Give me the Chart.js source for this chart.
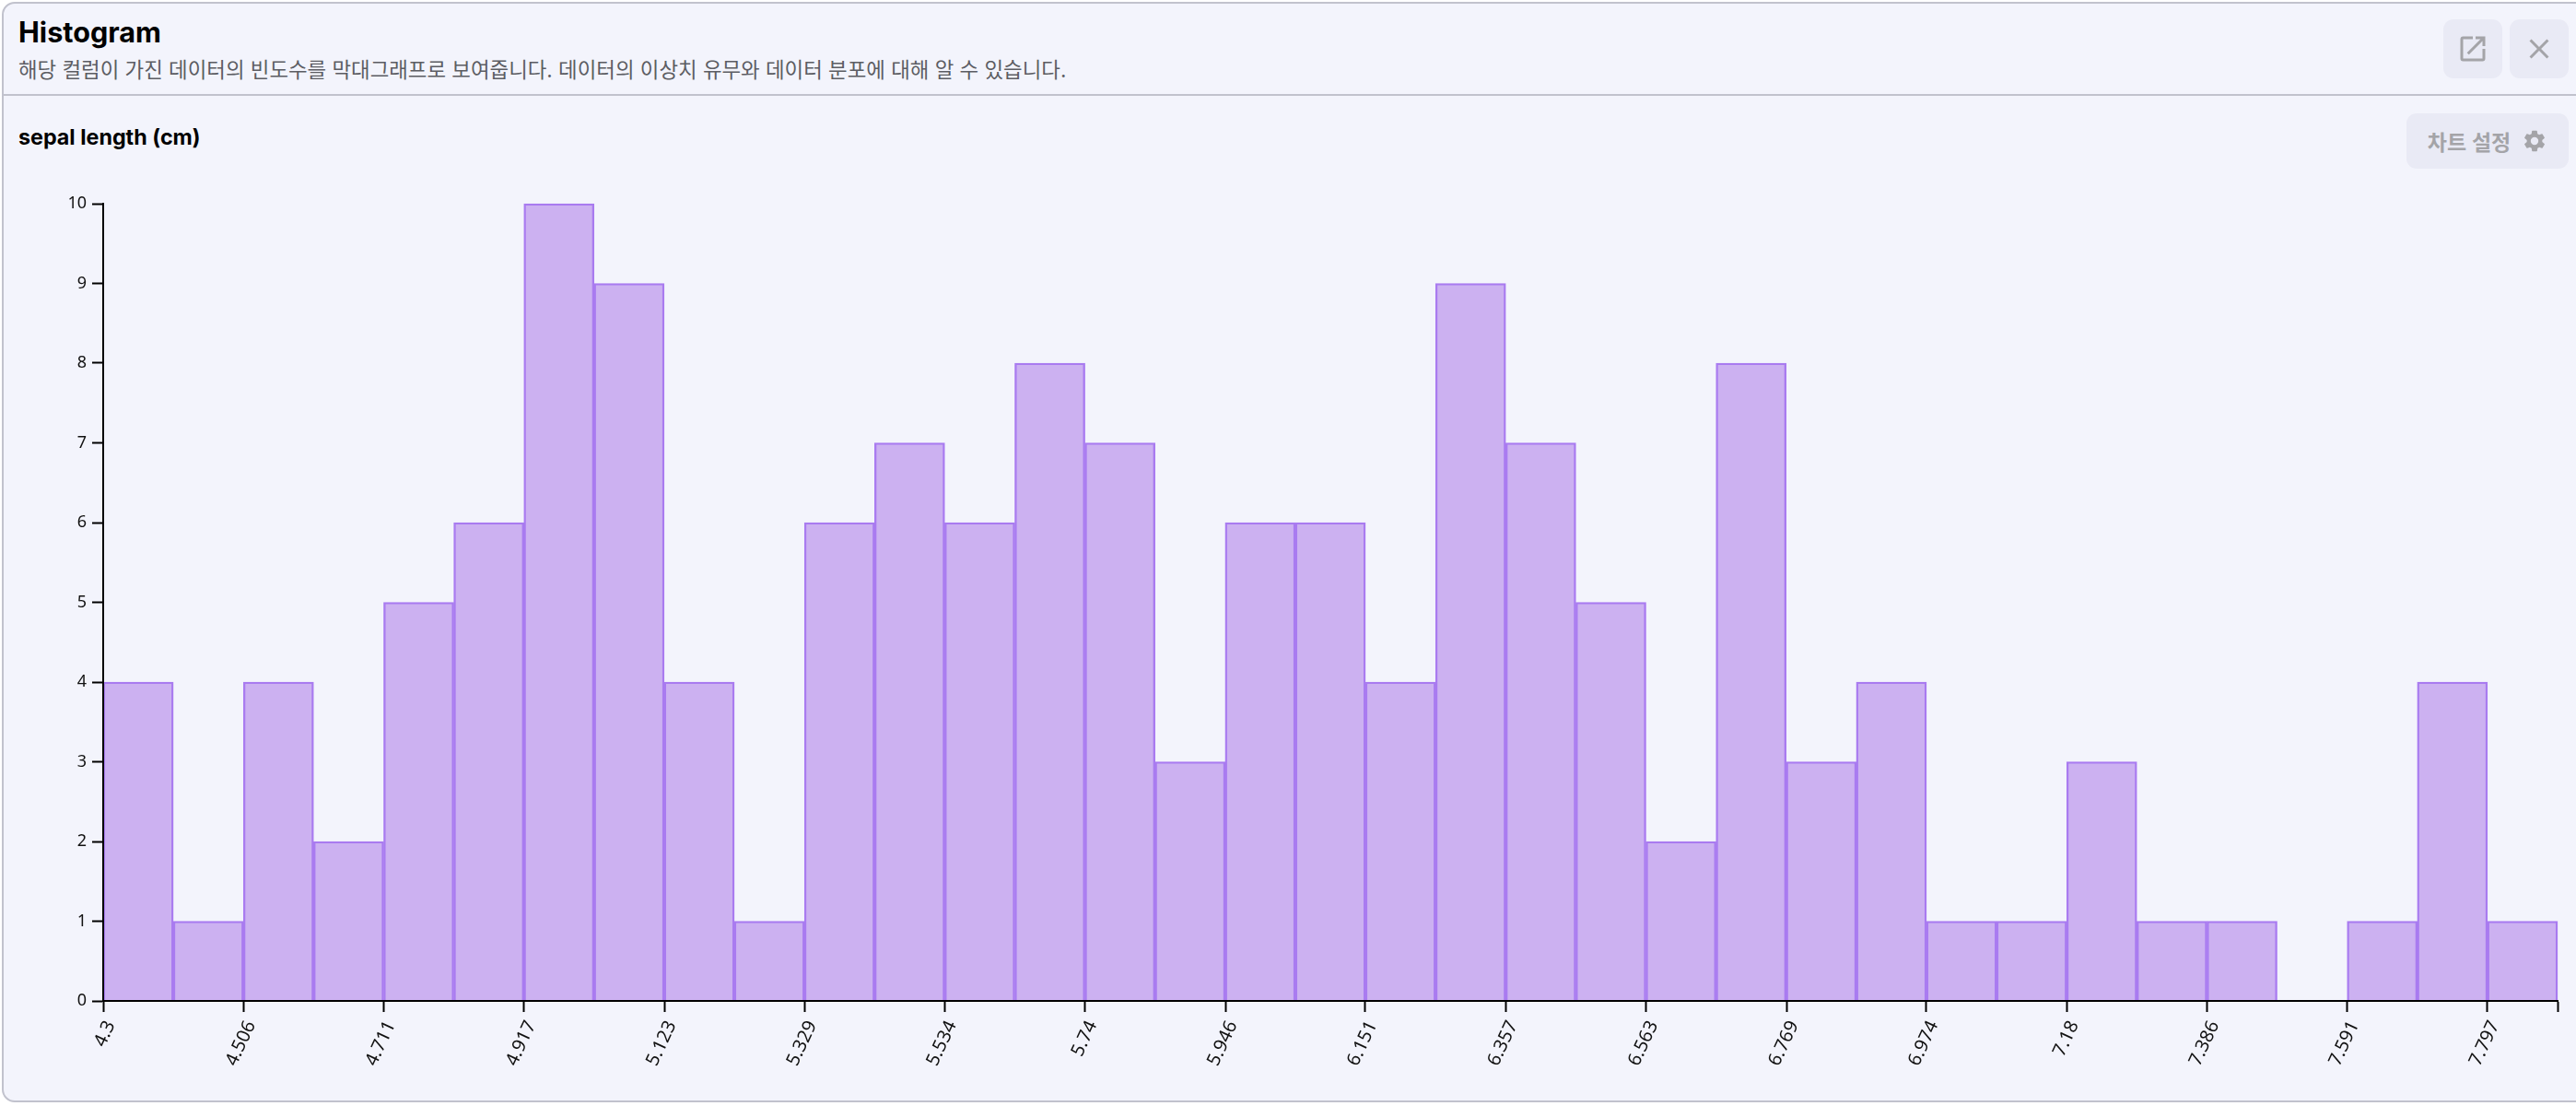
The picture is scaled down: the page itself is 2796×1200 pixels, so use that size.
<!DOCTYPE html>
<html lang="ko">
<head>
  <meta charset="UTF-8" />
  <title>Histogram</title>
  <script src="https://cdn.jsdelivr.net/npm/chart.js"></script>
  <style>
    html, body { margin: 0; padding: 0; width: 2796px; height: 1200px; background: #fff; overflow: hidden; }
    body { font-family: Inter, "Noto Sans CJK KR", sans-serif; position: relative; }
    .card {
      position: absolute; left: 2px; top: 2px; width: 2810px; height: 1194px;
      background: #f3f4fc; border: 2px solid #c1c2cd; border-radius: 14px; box-sizing: border-box;
    }
    .divider { position: absolute; left: 2px; right: 0; top: 102px; height: 2px; background: #c1c2cd; }
    .title { position: absolute; left: 20px; top: 16px; font-size: 30.6px; font-weight: 700; line-height: 38px; color: #000; }
    .desc { position: absolute; left: 20px; top: 60px; font-size: 22.4px; line-height: 32px; color: #5c5d63; white-space: nowrap; }
    .name { position: absolute; left: 20px; top: 133px; font-size: 23.3px; font-weight: 700; line-height: 32px; color: #000; }
    .btn { position: absolute; background: #e9eaf5; border-radius: 11px; display: flex; align-items: center; justify-content: center; color: #a4a4a8; }
    .btn svg { display: block; fill: #a4a4a8; }
    .settings { left: 2612px; top: 123px; width: 176px; height: 60px; font-size: 23px; font-weight: 600; gap: 12px; }
    canvas { position: absolute; left: 0; top: 200px; }
  </style>
</head>
<body>
  <div class="card"></div>
  <div class="divider"></div>
  <div class="title">Histogram</div>
  <div class="desc">해당 컬럼이 가진 데이터의 빈도수를 막대그래프로 보여줍니다. 데이터의 이상치 유무와 데이터 분포에 대해 알 수 있습니다.</div>
  <div class="name">sepal length (cm)</div>

  <div class="btn" style="left:2652px;top:21px;width:64px;height:64px">
    <svg width="36" height="36" viewBox="0 0 24 24"><path d="M19 19H5V5h7V3H5a2 2 0 0 0-2 2v14a2 2 0 0 0 2 2h14a2 2 0 0 0 2-2v-7h-2v7zM14 3v2h3.59l-9.83 9.83 1.41 1.41L19 6.41V10h2V3h-7z"/></svg>
  </div>
  <div class="btn" style="left:2724px;top:21px;width:64px;height:64px">
    <svg width="36" height="36" viewBox="0 0 24 24"><path d="M19 6.41 17.59 5 12 10.59 6.41 5 5 6.41 10.59 12 5 17.59 6.41 19 12 13.41 17.59 19 19 17.59 13.41 12z"/></svg>
  </div>
  <div class="btn settings">
    <span>차트 설정</span>
    <svg width="28" height="28" viewBox="0 0 24 24"><path d="M19.14 12.94a7.1 7.1 0 0 0 0-1.88l2.03-1.58a.5.5 0 0 0 .12-.64l-1.92-3.32a.5.5 0 0 0-.61-.22l-2.39.96a7 7 0 0 0-1.62-.94l-.36-2.54a.5.5 0 0 0-.5-.42h-3.84a.5.5 0 0 0-.49.42l-.36 2.54c-.59.24-1.13.56-1.62.94l-2.39-.96a.5.5 0 0 0-.61.22L2.71 8.84a.5.5 0 0 0 .12.64l2.03 1.58a7.4 7.4 0 0 0 0 1.88l-2.03 1.58a.5.5 0 0 0-.12.64l1.92 3.32c.12.22.39.3.61.22l2.39-.96c.5.38 1.03.7 1.62.94l.36 2.54c.05.24.25.42.49.42h3.84c.24 0 .45-.18.49-.42l.36-2.54a7 7 0 0 0 1.62-.94l2.39.96c.22.08.49 0 .61-.22l1.92-3.32a.5.5 0 0 0-.12-.64l-2.03-1.58zM12 15.6a3.6 3.6 0 1 1 0-7.2 3.6 3.6 0 0 1 0 7.2z"/></svg>
  </div>

  <canvas id="histChart" width="2796" height="1000"></canvas>

  <script>
    const binStarts = [4.3, 4.403, 4.506, 4.609, 4.711, 4.814, 4.917, 5.02, 5.123, 5.226, 5.329, 5.431,
      5.534, 5.637, 5.74, 5.843, 5.946, 6.049, 6.151, 6.254, 6.357, 6.46, 6.563, 6.666, 6.769, 6.871,
      6.974, 7.077, 7.18, 7.283, 7.386, 7.489, 7.591, 7.694, 7.797];
    const counts = [4, 1, 4, 2, 5, 6, 10, 9, 4, 1, 6, 7, 6, 8, 7, 3, 6, 6, 4, 9, 7, 5, 2, 8, 3, 4, 1, 1, 3, 1, 1, 0, 1, 4, 1];
    const edgeTicks = [4.3, 4.506, 4.711, 4.917, 5.123, 5.329, 5.534, 5.74, 5.946, 6.151, 6.357, 6.563,
      6.769, 6.974, 7.18, 7.386, 7.591, 7.797, 7.9];
    const edgeLabels = ['4.3', '4.506', '4.711', '4.917', '5.123', '5.329', '5.534', '5.74', '5.946', '6.151',
      '6.357', '6.563', '6.769', '6.974', '7.18', '7.386', '7.591', '7.797', ''];

    new Chart(document.getElementById('histChart').getContext('2d'), {
      type: 'bar',
      data: {
        labels: binStarts,
        datasets: [{
          data: counts,
          backgroundColor: '#ccb1f1',
          borderColor: '#a97bf0',
          borderWidth: 2.4,
          barPercentage: 1,
          categoryPercentage: 1,
          clip: false
        }]
      },
      options: {
        responsive: false,
        animation: false,
        layout: { padding: { top: 21, right: 20, left: 0, bottom: 0 } },
        plugins: { legend: { display: false }, tooltip: { enabled: false } },
        scales: {
          // bars sit on this one, the visible ticks are on the bin edges below
          x: { type: 'category', display: false, offset: true },
          xEdges: {
            type: 'linear',
            axis: 'x',
            position: 'bottom',
            offset: false,
            min: 4.3,
            max: 7.9,
            afterBuildTicks: scale => { scale.ticks = edgeTicks.map(value => ({ value })); },
            afterFit: scale => {
              scale.height = 114;
              // rotated labels must not shrink the plot area
              scale.paddingLeft = 0;
              scale.paddingRight = 0;
            },
            grid: { offset: false, drawOnChartArea: false, drawTicks: true, tickLength: 12, tickColor: '#000', tickWidth: 2, z: 1 },
            border: { color: '#000', width: 2, z: 1 },
            ticks: {
              autoSkip: false,
              minRotation: 65,
              maxRotation: 65,
              color: '#111',
              font: { family: '"Noto Sans", sans-serif', size: 20 },
              padding: 6,
              labelOffset: 8,
              callback: (value, index) => edgeLabels[index]
            }
          },
          y: {
            min: 0,
            max: 10,
            afterFit: scale => { scale.width = 112; },
            grid: { drawOnChartArea: false, drawTicks: true, tickLength: 12, tickColor: '#000', tickWidth: 2, z: 1 },
            border: { color: '#000', width: 2, z: 1 },
            ticks: { stepSize: 1, color: '#111', font: { family: '"Noto Sans", sans-serif', size: 18 }, padding: 6 }
          }
        }
      }
    });
  </script>
</body>
</html>
